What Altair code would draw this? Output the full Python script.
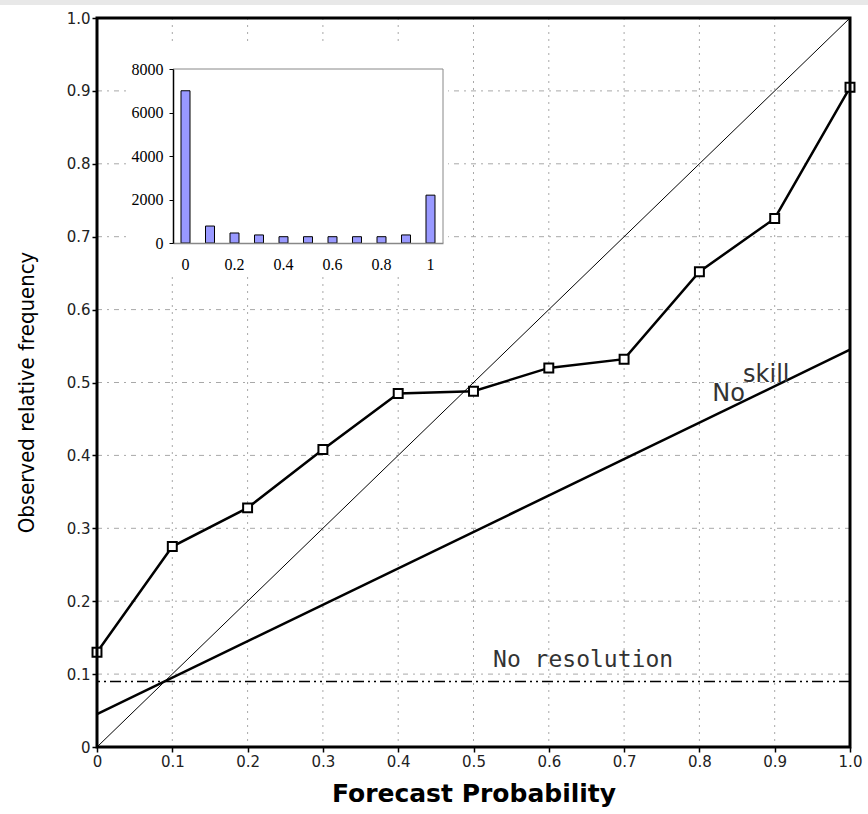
import altair as alt
import pandas as pd

# ---- data ----
forecast_prob = [0.0, 0.1, 0.2, 0.3, 0.4, 0.5, 0.6, 0.7, 0.8, 0.9, 1.0]
observed_freq = [0.13, 0.275, 0.328, 0.408, 0.485, 0.488, 0.52, 0.532, 0.652, 0.725, 0.905]

diag_x = [0.0, 1.0]
diag_y = [0.0, 1.0]

noskill_x = [0.0, 1.0]
noskill_y = [0.045, 0.545]

no_resolution_y = [0.09]

hist_bins = ["0", "0.1", "0.2", "0.3", "0.4", "0.5", "0.6", "0.7", "0.8", "0.9", "1"]
hist_counts = [7000, 780, 460, 370, 290, 290, 290, 290, 290, 370, 2200]
hist_label_values = ["0", "0.2", "0.4", "0.6", "0.8", "1"]
hist_y_ticks = [0, 2000, 4000, 6000, 8000]

main_ticks = [0.0, 0.1, 0.2, 0.3, 0.4, 0.5, 0.6, 0.7, 0.8, 0.9, 1.0]

# ---- tables ----
rel_df = pd.DataFrame({"p": forecast_prob, "o": observed_freq})
diag_df = pd.DataFrame({"p": diag_x, "o": diag_y})
ns_df = pd.DataFrame({"p": noskill_x, "o": noskill_y})
nr_df = pd.DataFrame({"o": no_resolution_y})
grid_df = pd.DataFrame({"p": main_ticks, "o": main_ticks})
hist_df = pd.DataFrame({"bin": hist_bins, "count": hist_counts})
one = pd.DataFrame({"a": [0]})

W, H = 753, 729
lab_expr = "datum.value == 0 ? '0' : format(datum.value, '.1f')"

xscale = alt.Scale(domain=[0, 1], nice=False, zero=False)
yscale = alt.Scale(domain=[0, 1], nice=False, zero=False)

xaxis = alt.Axis(values=main_ticks, labelExpr=lab_expr, grid=False, domain=False,
                 tickColor="black", tickSize=5, tickWidth=1.5, labelFont="DejaVu Sans",
                 labelFontSize=15, labelColor="#222", labelPadding=2, labelFlush=False,
                 title="Forecast Probability", titleFont="DejaVu Sans", titleFontSize=25,
                 titleFontWeight="bold", titleColor="black", titlePadding=12)
yaxis = alt.Axis(values=main_ticks, labelExpr=lab_expr, grid=False, domain=False,
                 tickColor="black", tickSize=5, tickWidth=1.5, labelFont="DejaVu Sans",
                 labelFontSize=15, labelColor="#222", labelPadding=2, labelFlush=False,
                 title="Observed relative frequency",
                 titleFont="DejaVu Sans Condensed, DejaVu Sans", titleFontSize=22, titleY=374,
                 titleFontWeight="normal", titleColor="black", titlePadding=28)

X = alt.X("p:Q", scale=xscale, axis=xaxis)
Y = alt.Y("o:Q", scale=yscale, axis=yaxis)

vgrid = alt.Chart(grid_df).mark_rule(color="#a8a8a8", strokeWidth=1,
                                     strokeDash=[2, 5]).encode(x=X)
hgrid = alt.Chart(grid_df).mark_rule(color="#a8a8a8", strokeWidth=1,
                                     strokeDash=[5, 5, 2, 5]).encode(y=Y)

diag = alt.Chart(diag_df).mark_line(color="black", strokeWidth=1).encode(x=X, y=Y)
noskill = alt.Chart(ns_df).mark_line(color="black", strokeWidth=2.5).encode(x=X, y=Y)
nores = alt.Chart(nr_df).mark_rule(color="black", strokeWidth=1.5,
                                   strokeDash=[11, 4, 2, 4, 2, 4]).encode(y=Y)
rel_line = alt.Chart(rel_df).mark_line(color="black", strokeWidth=2.5).encode(x=X, y=Y)
rel_pts = alt.Chart(rel_df).mark_point(shape="square", filled=True, fill="white", stroke="black",
                                       strokeWidth=2, size=80, opacity=1).encode(x=X, y=Y)

txt_df = pd.DataFrame({
    "p": [0.526, 0.817, 0.858],
    "o": [0.11, 0.475, 0.501],
    "t": ["No resolution", "No", "skill"],
})
txt_res = alt.Chart(txt_df.iloc[[0]]).mark_text(align="left", baseline="alphabetic",
                                                font="DejaVu Sans Mono", fontSize=23,
                                                color="#333").encode(x=X, y=Y, text="t:N")
txt_ns = alt.Chart(txt_df.iloc[[1, 2]]).mark_text(align="left", baseline="alphabetic",
                                                  font="DejaVu Sans", fontSize=24,
                                                  color="#333").encode(x=X, y=Y, text="t:N")

top_strip = alt.Chart(one).mark_rect(color="#e8e8e8").encode(
    x=alt.value(-97), x2=alt.value(W + 18), y=alt.value(-18), y2=alt.value(-13))

frame = alt.Chart(one).mark_rect(filled=False, stroke="black", strokeWidth=3).encode(
    x=alt.value(0), x2=alt.value(W), y=alt.value(0), y2=alt.value(H))

# ---- inset histogram ----
ix0, ix1 = 76, 346
iy0, iy1 = 225, 51
inset_bg = alt.Chart(one).mark_rect(fill="white", opacity=1).encode(
    x=alt.value(33), x2=alt.value(351), y=alt.value(27), y2=alt.value(257))
inset_top = alt.Chart(one).mark_rule(color="#888888", strokeWidth=1).encode(
    x=alt.value(ix0), x2=alt.value(ix1), y=alt.value(iy1))
inset_right = alt.Chart(one).mark_rule(color="#888888", strokeWidth=1).encode(
    x=alt.value(ix1), y=alt.value(iy1), y2=alt.value(iy0))

main = alt.layer(top_strip, vgrid, hgrid, inset_bg, inset_top, inset_right,
                 diag, noskill, nores, rel_line, rel_pts, txt_res, txt_ns, frame)

bars = alt.Chart(hist_df).mark_bar(color="#9999ff", stroke="black", strokeWidth=1).encode(
    x=alt.X("bin:N", sort=hist_bins,
            scale=alt.Scale(range=[ix0, ix1], paddingInner=0.633, paddingOuter=0.327),
            axis=alt.Axis(orient="bottom", offset=iy0 - H, values=hist_label_values,
                          labelAngle=0, ticks=False, domainColor="#888888", domainWidth=1.5,
                          labelFont="Liberation Serif", labelFontSize=16, labelColor="black",
                          labelPadding=13, title=None, grid=False, zindex=2)),
    y=alt.Y("count:Q", scale=alt.Scale(domain=[0, 8000], range=[iy0, iy1], nice=False),
            axis=alt.Axis(orient="left", offset=-ix0, values=hist_y_ticks, format="d",
                          tickSize=4, tickColor="black", domainColor="black", domainWidth=1.5,
                          labelFont="Liberation Serif", labelFontSize=16, labelColor="black",
                          labelPadding=6, title=None, grid=False, zindex=2)),
)

chart = alt.layer(main, bars).resolve_scale(x="independent", y="independent").properties(
    width=W, height=H,
    padding={"left": 97, "top": 18, "right": 18, "bottom": 67},
    autosize=alt.AutoSizeParams(type="none"),
    background="white",
).configure_view(stroke=None)

chart.save("out.html", embed_options={"renderer": "svg", "actions": False})
